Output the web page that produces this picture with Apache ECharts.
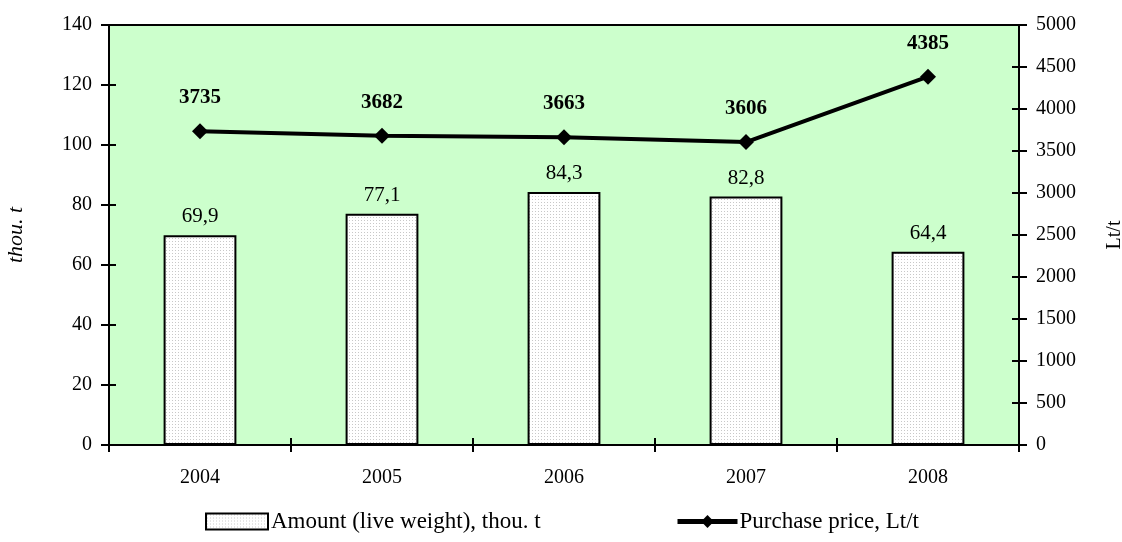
<!DOCTYPE html>
<html>
<head>
<meta charset="utf-8">
<script src="https://cdn.jsdelivr.net/npm/echarts@6/dist/echarts.min.js"></script>
<style>
html, body { margin: 0; padding: 0; background: #fff; }
#chart { width: 1122px; height: 542px; }
</style>
</head>
<body>
<div id="chart"></div>
<script>
var years = ['2004', '2005', '2006', '2007', '2008'];
var amount = [69.9, 77.1, 84.3, 82.8, 64.4];
var price = [3735, 3682, 3663, 3606, 4385];

var FONT = 'Liberation Serif';

// dotted fill like the original bars
var dots = document.createElement('canvas');
dots.width = 3; dots.height = 3;
var ctx = dots.getContext('2d');
ctx.fillStyle = '#ffffff';
ctx.fillRect(0, 0, 3, 3);
ctx.fillStyle = '#c8c8c8';
ctx.fillRect(1, 1, 1, 1);

var chart = echarts.init(document.getElementById('chart'));

var tickStyle = { color: '#000', width: 2 };

chart.setOption({
    animation: false,
    textStyle: { fontFamily: FONT },
    grid: {
        left: 109, right: 103, top: 25, bottom: 97,
        outerBoundsMode: 'none',
        show: true, backgroundColor: '#ccffcc', borderColor: '#000', borderWidth: 2
    },
    legend: [{
        bottom: 4,
        left: 200,
        icon: 'rect',
        itemWidth: 62,
        itemHeight: 16,
        textStyle: { fontFamily: FONT, fontSize: 23, color: '#000', padding: [0, 0, 0, -2] },
        data: ['Amount (live weight), thou. t']
    }, {
        bottom: 4,
        left: 670,
        itemWidth: 60,
        itemHeight: 16,
        lineStyle: { width: 5, color: '#000' },
        textStyle: { fontFamily: FONT, fontSize: 23, color: '#000', padding: [0, 0, 0, -3] },
        data: ['Purchase price, Lt/t']
    }],
    xAxis: [{
        type: 'category',
        data: years,
        axisLine: { lineStyle: { color: '#000', width: 2 } },
        axisTick: { show: true, length: 7, lineStyle: tickStyle },
        axisLabel: { fontFamily: FONT, fontSize: 20, color: '#000', margin: 23 }
    }, {
        type: 'category',
        data: years,
        position: 'bottom',
        axisLine: { show: false },
        axisTick: { show: true, inside: true, length: 7, lineStyle: tickStyle },
        axisLabel: { show: false }
    }],
    yAxis: [{
        type: 'value',
        min: 0, max: 140, interval: 20,
        name: 'thou. t',
        nameLocation: 'middle',
        nameRotate: 90,
        nameGap: 82,
        nameTextStyle: { fontFamily: FONT, fontSize: 22, fontStyle: 'italic', color: '#000' },
        axisLine: { show: true, lineStyle: { color: '#000', width: 2 } },
        axisTick: { show: true, length: 8, lineStyle: tickStyle },
        axisLabel: { fontFamily: FONT, fontSize: 20, color: '#000', margin: 17 },
        splitLine: { show: false }
    }, {
        type: 'value',
        min: 0, max: 5000, interval: 500,
        name: 'Lt/t',
        nameLocation: 'middle',
        nameRotate: 90,
        nameGap: 86,
        nameTextStyle: { fontFamily: FONT, fontSize: 20, color: '#000' },
        axisLine: { show: true, lineStyle: { color: '#000', width: 2 } },
        axisTick: { show: true, length: 8, lineStyle: tickStyle },
        axisLabel: {
            fontFamily: FONT, fontSize: 20, color: '#000', margin: 17,
            formatter: function (v) { return String(v); }
        },
        splitLine: { show: false }
    }, {
        type: 'value',
        position: 'left',
        min: 0, max: 140, interval: 20,
        axisLine: { show: false },
        axisTick: { show: true, inside: true, length: 7, lineStyle: tickStyle },
        axisLabel: { show: false },
        splitLine: { show: false }
    }, {
        type: 'value',
        position: 'right',
        min: 0, max: 5000, interval: 500,
        axisLine: { show: false },
        axisTick: { show: true, inside: true, length: 7, lineStyle: tickStyle },
        axisLabel: { show: false },
        splitLine: { show: false }
    }],
    series: [{
        name: 'Amount (live weight), thou. t',
        type: 'bar',
        data: amount,
        yAxisIndex: 0,
        barWidth: '40%',
        itemStyle: { color: { image: dots, repeat: 'repeat' }, borderColor: '#000', borderWidth: 2 },
        label: {
            show: true,
            position: 'top',
            distance: 8,
            fontFamily: FONT,
            fontSize: 21,
            color: '#000',
            formatter: function (p) { return String(p.value).replace('.', ','); }
        }
    }, {
        name: 'Purchase price, Lt/t',
        type: 'line',
        data: price,
        yAxisIndex: 1,
        symbol: 'diamond',
        symbolSize: 16,
        lineStyle: { color: '#000', width: 4 },
        itemStyle: { color: '#000' },
        label: {
            show: true,
            position: 'top',
            distance: 15,
            fontFamily: FONT,
            fontSize: 21,
            fontWeight: 'bold',
            color: '#000'
        }
    }]
});
</script>
</body>
</html>
